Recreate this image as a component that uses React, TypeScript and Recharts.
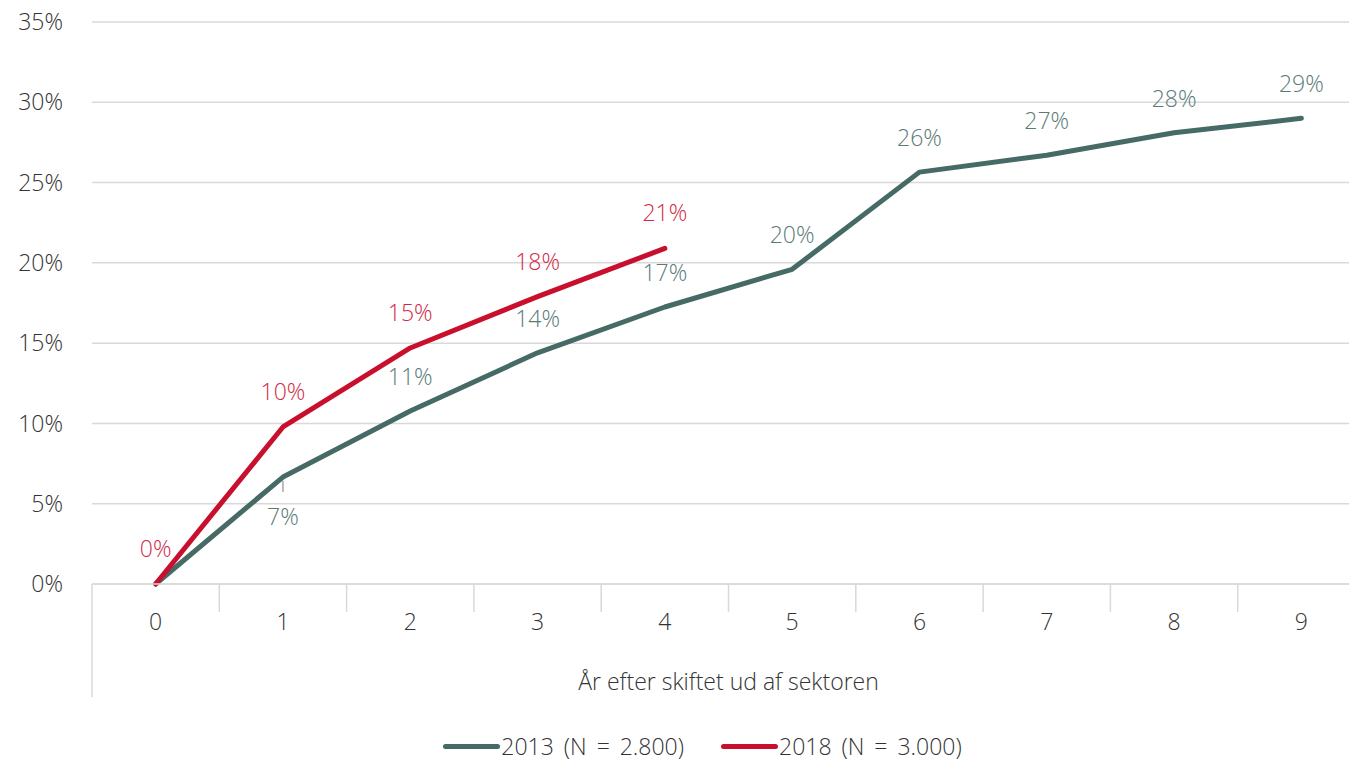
import React from 'react';
import { LineChart, Line, XAxis, YAxis, CartesianGrid, Legend, LabelList } from 'recharts';

const years = ['0', '1', '2', '3', '4', '5', '6', '7', '8', '9'];
const series2013 = [0, 6.66, 10.77, 14.4, 17.25, 19.6, 25.65, 26.7, 28.1, 29.0];
const series2018 = [0, 9.78, 14.7, 17.9, 20.9];
const yTicks = [0, 5, 10, 15, 20, 25, 30, 35];

const WIDTH = 1349;
const HEIGHT = 761;
const Y_AXIS_W = 92;
const RIGHT = -16;
const FONT = '"Open Sans", "Noto Sans", sans-serif';
const FS = 23;
const TEXT = '#333333';
const GREY = '#466a65';
const RED = '#c8102e';
const GREY_LABEL = '#5a7a76';
const RED_LABEL = '#d02a46';
const GRID = '#d9d9d9';

const data = years.map((y, i) => ({
    year: y,
    s2013: series2013[i],
    s2018: i < series2018.length ? series2018[i] : null,
}));

const band = (WIDTH - RIGHT - Y_AXIS_W) / years.length;

// category label plus the boundary lines between categories
const XTick = (props: any) => {
    const { x, y, payload, index } = props;
    const left = x - band / 2;
    return (
        <g>
            <line x1={left} y1={y - 8} x2={left} y2={index === 0 ? y + 105 : y + 20} stroke={GRID} strokeWidth={1.5} />
            <text x={x} y={y + 38} textAnchor="middle" fill={TEXT} fontSize={FS} fontFamily={FONT} fontWeight={300}>
                {payload.value}
            </text>
        </g>
    );
};

const greyLabel = (props: any) => {
    const { x, y, value, index } = props;
    if (index === 0 || value == null) return null;
    const txt = Math.round(value) + '%';
    if (index === 1) {
        return (
            <g>
                <line x1={x} y1={y + 4} x2={x} y2={y + 15} stroke="#a6a6a6" strokeWidth={1.5} />
                <text x={x} y={y + 48} textAnchor="middle" fill={GREY_LABEL} fontSize={FS} fontFamily={FONT} fontWeight={300}>
                    {txt}
                </text>
            </g>
        );
    }
    return (
        <text x={x} y={y - 26} textAnchor="middle" fill={GREY_LABEL} fontSize={FS} fontFamily={FONT} fontWeight={300}>
            {txt}
        </text>
    );
};

const redLabel = (props: any) => {
    const { x, y, value } = props;
    if (value == null) return null;
    return (
        <text x={x} y={y - 27} textAnchor="middle" fill={RED_LABEL} fontSize={FS} fontFamily={FONT} fontWeight={300}>
            {Math.round(value) + '%'}
        </text>
    );
};

const LegendContent = () => (
    <div style={{ display: 'flex', justifyContent: 'center', alignItems: 'center', paddingTop: 24, paddingLeft: 40, lineHeight: 1, fontFamily: FONT, fontWeight: 300, fontSize: FS, color: TEXT, wordSpacing: 4 }}>
        {[{ c: GREY, t: '2013 (N = 2.800)' }, { c: RED, t: '2018 (N = 3.000)' }].map((it, i) => (
            <div key={i} style={{ display: 'flex', alignItems: 'center', marginRight: i === 0 ? 37 : 0 }}>
                <div style={{ width: 57, height: 5, borderRadius: 3, background: it.c, marginRight: 1 }} />
                <span>{it.t}</span>
            </div>
        ))}
    </div>
);

export default function App() {
    return (
        <div style={{ position: 'absolute', left: 0, top: 0, width: WIDTH, height: HEIGHT, overflow: 'hidden', background: '#fff' }}>
            <LineChart width={WIDTH} height={HEIGHT} data={data} margin={{ top: 22, right: RIGHT, left: 0, bottom: 0 }}>
                <CartesianGrid vertical={false} stroke={GRID} strokeWidth={1.5} />
                <XAxis
                    dataKey="year"
                    scale="band"
                    height={127}
                    axisLine={{ stroke: GRID, strokeWidth: 1.5 }}
                    tickLine={false}
                    tick={<XTick />}
                    interval={0}
                    label={{ value: 'År efter skiftet ud af sektoren', position: 'insideBottom', offset: 21, fill: TEXT, fontSize: FS, fontFamily: FONT, fontWeight: 300 }}
                />
                <YAxis
                    width={Y_AXIS_W}
                    domain={[0, 35]}
                    ticks={yTicks}
                    axisLine={false}
                    tickLine={false}
                    tickSize={0}
                    tickMargin={29}
                    tickFormatter={(v: number) => v + '%'}
                    tick={{ fill: TEXT, fontSize: FS, fontFamily: FONT, fontWeight: 300 }}
                />
                <Legend verticalAlign="bottom" height={50} content={<LegendContent />} />
                <Line type="linear" dataKey="s2013" stroke={GREY} strokeWidth={5} dot={false} isAnimationActive={false} strokeLinecap="round" strokeLinejoin="round">
                    <LabelList dataKey="s2013" content={greyLabel} />
                </Line>
                <Line type="linear" dataKey="s2018" stroke={RED} strokeWidth={5} dot={false} isAnimationActive={false} strokeLinecap="round" strokeLinejoin="round">
                    <LabelList dataKey="s2018" content={redLabel} />
                </Line>
            </LineChart>
        </div>
    );
}
